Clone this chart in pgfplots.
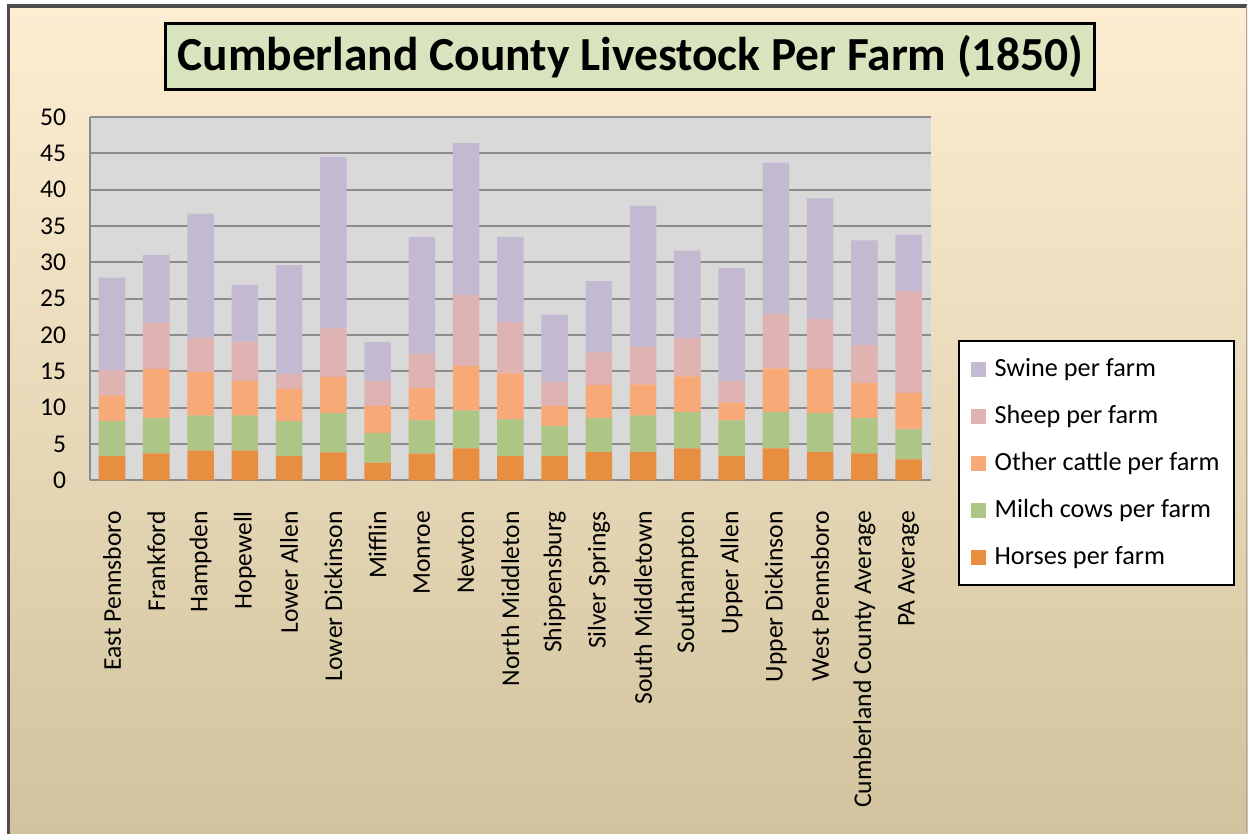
\documentclass[border=0pt]{standalone}
\usepackage{fontspec}
\setmainfont{Carlito}
\usepackage{pgfplots}
\usepackage{pgfplotstable}
\pgfplotsset{compat=1.18}
\definecolor{horse}{RGB}{232,142,65}
\definecolor{milch}{RGB}{173,197,133}
\definecolor{othercattle}{RGB}{247,170,119}
\definecolor{sheep}{RGB}{223,179,178}
\definecolor{swine}{RGB}{195,185,209}
\definecolor{plotgray}{RGB}{217,217,217}
\definecolor{gridgray}{RGB}{140,140,140}
\definecolor{titlegreen}{RGB}{215,228,189}
\definecolor{bgtop}{RGB}{253,238,211}
\definecolor{bgmid}{RGB}{242,234,211}
\definecolor{bgbot}{RGB}{210,195,158}
\pgfplotstableread{
x horses milch other sheep swine
0 3.35 4.81 3.54 3.50 12.70
1 3.70 4.90 6.70 6.40 9.30
2 4.10 4.80 6.00 4.70 17.10
3 4.10 4.80 4.80 5.40 7.80
4 3.35 4.81 4.44 2.00 15.00
5 3.85 5.41 4.94 6.70 23.60
6 2.43 4.07 3.70 3.50 5.30
7 3.67 4.58 4.45 4.70 16.10
8 4.40 5.20 6.10 9.80 20.90
9 3.35 5.05 6.30 7.10 11.70
10 3.35 4.15 2.70 3.30 9.30
11 3.90 4.70 4.50 4.50 9.80
12 3.90 5.00 4.30 5.20 19.40
13 4.40 5.00 4.90 5.30 12.00
14 3.35 4.90 2.45 3.00 15.50
15 4.40 5.00 6.00 7.50 20.80
16 3.90 5.36 6.04 6.90 16.60
17 3.70 4.90 4.80 5.20 14.40
18 2.90 4.10 5.05 13.95 7.80
}\livestock
\begin{document}
\begin{tikzpicture}
\fill[white] (0pt,0pt) rectangle (499.6pt,334pt);
\shade[top color=bgtop, middle color=bgmid, bottom color=bgbot] (3pt,0pt) rectangle (499.6pt,332pt);
\draw[black!70, line width=1.3pt] (3.3pt,0pt) -- (3.3pt,331.6pt) -- (499.6pt,331.6pt);
\draw[black!35, line width=0.6pt] (499.3pt,0pt) -- (499.3pt,331.6pt);
\node[draw=black, line width=1.2pt, fill=titlegreen, minimum width=372pt, minimum height=26.4pt, inner sep=0pt,
  font=\fontsize{19}{22}\selectfont\bfseries] at (252.4pt,311.2pt) {Cumberland County Livestock Per Farm (1850)};
\begin{axis}[
  at={(36pt,141.6pt)}, anchor=south west,
  scale only axis, width=336.8pt, height=145.6pt,
  ybar stacked, bar width=0.6,
  xmin=-0.5, xmax=18.5, ymin=0, ymax=50,
  ytick={0,5,...,50},
  xtick={0,...,18},
  xticklabels={East Pennsboro,Frankford,Hampden,Hopewell,Lower Allen,Lower Dickinson,Mifflin,Monroe,Newton,North Middleton,Shippensburg,Silver Springs,South Middletown,Southampton,Upper Allen,Upper Dickinson,West Pennsboro,Cumberland County Average,PA Average},
  axis background/.style={fill=plotgray},
  ymajorgrids, grid style={gridgray, line width=0.8pt},
  axis line style={gridgray, line width=0.8pt},
  axis x line*=bottom, axis y line*=left,
  major tick length=0pt,
  /pgf/number format/assume math mode=true,
  tick label style={font=\fontsize{10.25}{12}\selectfont, text=black},
  xticklabel style={rotate=90, anchor=east, xshift=-8.8pt},
  yticklabel style={xshift=-6pt},
  reverse legend,
  legend image code/.code={\fill[#1] (0.8pt,-3pt) rectangle (6.8pt,3pt); \path (0pt,0pt) -- (8.4pt,0pt);},
  legend style={at={(1.032,0.047)}, anchor=west, fill=white, draw=black, line width=0.8pt,
    font=\fontsize{10.5}{12}\selectfont, row sep=6pt, inner xsep=4pt, inner ysep=5pt,
    cells={anchor=west}},
]
\addplot[fill=horse, draw=none] table[x=x, y=horses] {\livestock};
\addlegendentry{Horses per farm}
\addplot[fill=milch, draw=none] table[x=x, y=milch] {\livestock};
\addlegendentry{Milch cows per farm}
\addplot[fill=othercattle, draw=none] table[x=x, y=other] {\livestock};
\addlegendentry{Other cattle per farm}
\addplot[fill=sheep, draw=none] table[x=x, y=sheep] {\livestock};
\addlegendentry{Sheep per farm}
\addplot[fill=swine, draw=none] table[x=x, y=swine] {\livestock};
\addlegendentry{Swine per farm}
\end{axis}
\end{tikzpicture}
\end{document}
